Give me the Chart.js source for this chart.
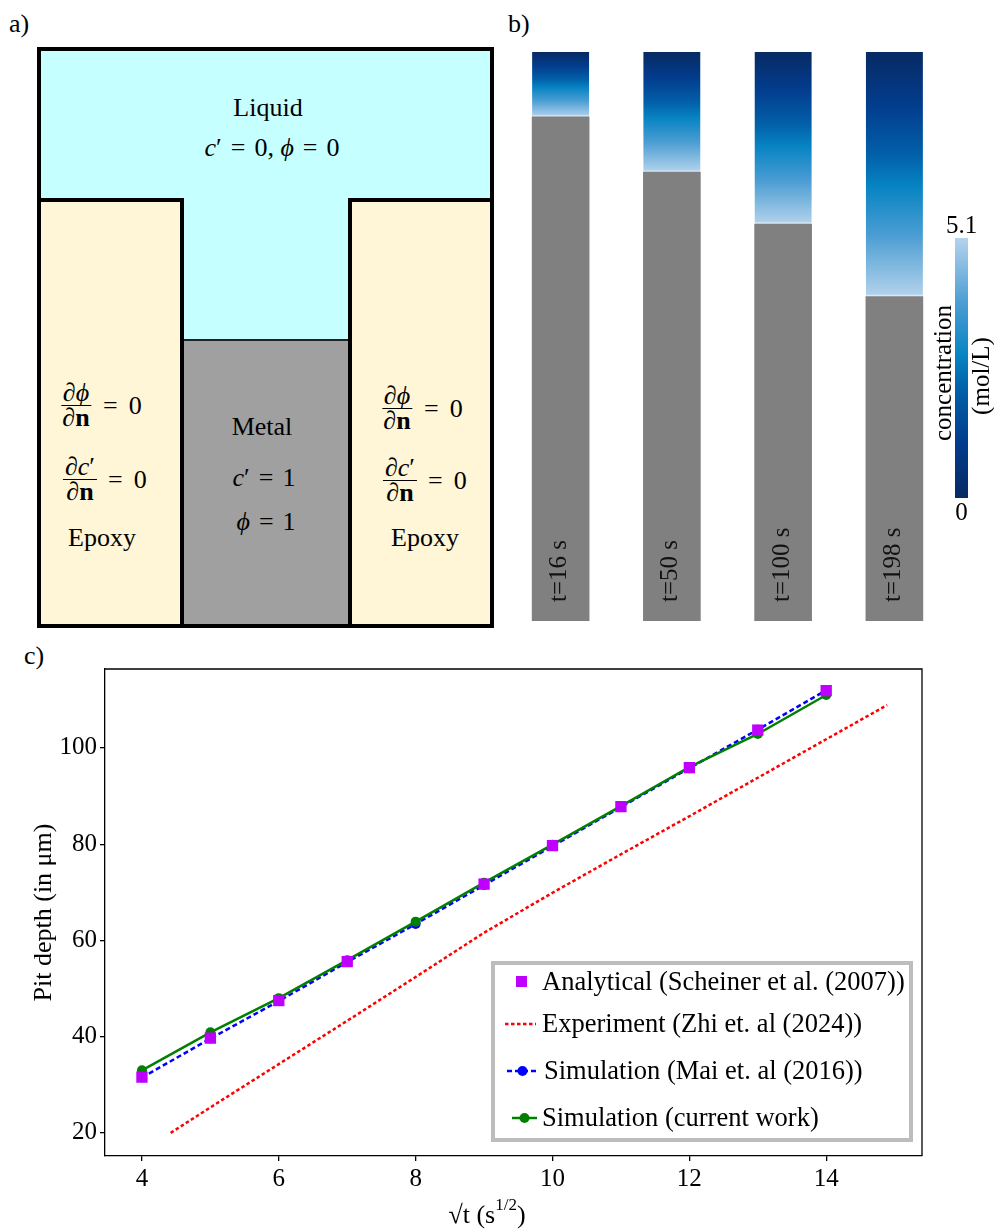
<!DOCTYPE html>
<html>
<head>
<meta charset="utf-8">
<script src="https://cdn.jsdelivr.net/npm/chart.js@4.4.1/dist/chart.umd.min.js"></script>
<style>
	body { margin: 0; background: #fff; color: #000; font-family: "Liberation Serif", "Times New Roman", serif; }
	#page { position: relative; width: 994px; height: 1230px; overflow: hidden; }
	.lbl { position: absolute; font-size: 26px; line-height: 26px; }
	.box { position: absolute; box-sizing: border-box; }
	.ctr { position: absolute; transform: translate(-50%, -50%); white-space: nowrap; font-size: 26px; line-height: 30px; }
	.frac { position: absolute; transform: translateX(-50%); display: flex; flex-direction: column; align-items: center; font-size: 26px; line-height: 24px; }
	.frac .num { border-bottom: 1.5px solid #000; padding: 0 2px; }
	.frac .den { padding: 0 2px; }
	.eq { position: absolute; font-size: 26px; line-height: 25px; white-space: nowrap; }
	.rel { display: inline-block; margin: 0 9px; }
	.eq .rel { margin: 0 11px 0 0; }
	i { font-style: italic; }
	canvas { position: absolute; }
</style>
</head>
<body>
<div id="page">
	<!-- a) schematic -->
	<div class="lbl" style="left:9px;top:11px">a)</div>
	<div class="box" style="left:37px;top:47px;width:457px;height:581px;background:#c6ffff;border:4.5px solid #000"></div>
	<div class="box" style="left:37px;top:198px;width:147px;height:430px;background:#fff5d7;border:4.5px solid #000"></div>
	<div class="box" style="left:348px;top:198px;width:146px;height:430px;background:#fff5d7;border:4.5px solid #000"></div>
	<div class="box" style="left:184px;top:339px;width:164px;height:289px;background:#a0a0a0;border-top:2.5px solid #222;border-bottom:4.5px solid #000"></div>

	<div class="ctr" style="left:268px;top:108px">Liquid</div>
	<div class="ctr" style="left:272px;top:148px"><i>c</i>′<span class="rel">=</span>0, <i>ϕ</i><span class="rel">=</span>0</div>

	<div class="ctr" style="left:262px;top:427px">Metal</div>
	<div class="ctr" style="left:264px;top:478px"><i>c</i>′<span class="rel">=</span>1</div>
	<div class="ctr" style="left:266px;top:522px"><i>ϕ</i><span class="rel">=</span>1</div>

	<div class="frac" style="left:76px;top:381px"><span class="num">∂<i>ϕ</i></span><span class="den">∂<b>n</b></span></div>
	<div class="eq" style="left:103px;top:393px"><span class="rel">=</span>0</div>
	<div class="frac" style="left:80px;top:455px"><span class="num">∂<i>c</i>′</span><span class="den">∂<b>n</b></span></div>
	<div class="eq" style="left:108px;top:467px"><span class="rel">=</span>0</div>
	<div class="ctr" style="left:102px;top:538px">Epoxy</div>

	<div class="frac" style="left:397px;top:384px"><span class="num">∂<i>ϕ</i></span><span class="den">∂<b>n</b></span></div>
	<div class="eq" style="left:424px;top:396px"><span class="rel">=</span>0</div>
	<div class="frac" style="left:400px;top:456px"><span class="num">∂<i>c</i>′</span><span class="den">∂<b>n</b></span></div>
	<div class="eq" style="left:428px;top:468px"><span class="rel">=</span>0</div>
	<div class="ctr" style="left:425px;top:538px">Epoxy</div>

	<!-- b) concentration columns -->
	<div class="lbl" style="left:508px;top:11px">b)</div>
	<canvas id="pits" width="494" height="640" style="left:500px;top:0"></canvas>

	<!-- c) pit depth -->
	<div class="lbl" style="left:24px;top:643px">c)</div>
	<canvas id="depth" width="994" height="590" style="left:0;top:640px"></canvas>
</div>

<script>
// ---- b) pit growth snapshots
const timeLabels = ['t=16 s', 't=50 s', 't=100 s', 't=198 s'];
const domainHeight = 263;               // µm, whole column
const pitDepthB = [30, 55.5, 79.5, 113]; // µm, liquid part of each column
const concRange = [0, 5.1];             // mol/L

// ---- c) pit depth vs sqrt(t)
const sqrtT = [4, 5, 6, 7, 8, 9, 10, 11, 12, 13, 14];
const analytical = [31.6, 39.7, 47.5, 55.6, null, 71.7, 79.7, 87.8, 95.9, 103.7, 111.9];
const maiSim = [31.5, 39.6, 47.4, 55.5, 63.4, 71.5, 79.6, 87.7, 95.8, 103.8, 112.0];
const currentSim = [33.0, 40.9, 48.0, 55.9, 63.9, 72.0, 79.9, 87.9, 96.0, 102.9, 111.0];
const expSqrtT = [4.42, 5, 6, 7, 8, 9, 10, 11, 12, 13, 14, 14.89];
const expDepth = [20, 25.3, 34.3, 43.3, 52.4, 61.6, 69.9, 77.9, 85.8, 93.8, 101.8, 108.9];
const xTicks = [4, 6, 8, 10, 12, 14];
const yTicks = [20, 40, 60, 80, 100];

const FONT = '"Liberation Serif", "Times New Roman", serif';
Chart.defaults.font.family = FONT;
Chart.defaults.color = '#000';
Chart.defaults.animation = false;

// dark (0) -> light (5.1)
const cmapStops = [
	[0.00, '#072a63'],
	[0.22, '#023d8e'],
	[0.42, '#0260a9'],
	[0.55, '#0784c3'],
	[0.75, '#4b9dd3'],
	[1.00, '#b4d3ec']
];

function fillStops(grad) {
	cmapStops.forEach(([p, c]) => grad.addColorStop(p, c));
	return grad;
}

const pitsPlugin = {
	id: 'pitsDecor',
	afterDatasetsDraw(chart) {
		const {ctx, scales} = chart;
		ctx.save();
		ctx.fillStyle = '#111';
		ctx.font = '25px ' + FONT;
		ctx.textAlign = 'left';
		ctx.textBaseline = 'middle';
		timeLabels.forEach((t, i) => {
			ctx.save();
			ctx.translate(scales.x.getPixelForValue(i) - 1, 602);
			ctx.rotate(-Math.PI / 2);
			ctx.fillText(t, 0, 0);
			ctx.restore();
		});

		// colorbar
		const cx0 = 455, cx1 = 468, cy0 = 238, cy1 = 498;
		ctx.fillStyle = fillStops(ctx.createLinearGradient(0, cy1, 0, cy0));
		ctx.fillRect(cx0, cy0, cx1 - cx0, cy1 - cy0);

		ctx.fillStyle = '#000';
		ctx.textAlign = 'center';
		ctx.fillText(String(concRange[1]), (cx0 + cx1) / 2, 226);
		ctx.fillText(String(concRange[0]), (cx0 + cx1) / 2, 513);

		ctx.save();
		ctx.translate(444, 373);
		ctx.rotate(-Math.PI / 2);
		ctx.fillText('concentration', 0, 0);
		ctx.restore();
		ctx.save();
		ctx.translate(482, 376);
		ctx.rotate(-Math.PI / 2);
		ctx.fillText('(mol/L)', 0, 0);
		ctx.restore();
		ctx.restore();
	}
};

new Chart(document.getElementById('pits'), {
	type: 'bar',
	data: {
		labels: timeLabels,
		datasets: [
			{
				label: 'metal',
				data: pitDepthB.map(d => domainHeight - d),
				backgroundColor: '#808080',
				borderWidth: 0
			},
			{
				label: 'liquid',
				data: pitDepthB,
				backgroundColor(c) {
					const chart = c.chart;
					if (!chart.chartArea || c.dataIndex === undefined) return cmapStops[0][1];
					const y = chart.scales.y;
					const top = y.getPixelForValue(domainHeight);
					const bot = y.getPixelForValue(domainHeight - pitDepthB[c.dataIndex]);
					return fillStops(chart.ctx.createLinearGradient(0, top, 0, bot));
				},
				borderColor: '#d6e8f6',
				borderWidth: {top: 0, left: 0, right: 0, bottom: 2},
				borderSkipped: false
			}
		]
	},
	options: {
		responsive: false,
		layout: {padding: {left: 5, right: 44, top: 52, bottom: 19}},
		datasets: {bar: {barThickness: 57}},
		scales: {
			x: {stacked: true, display: false},
			y: {stacked: true, display: false, min: 0, max: domainHeight}
		},
		plugins: {legend: {display: false}, tooltip: {enabled: false}}
	},
	plugins: [pitsPlugin]
});

// ---- c)
const pairs = (xs, ys) => xs.map((x, i) => ({x, y: ys[i]})).filter(p => p.y !== null);

const series = {
	analytical: {
		label: 'Analytical (Scheiner et al. (2007))',
		data: pairs(sqrtT, analytical),
		showLine: false,
		pointStyle: 'rect',
		pointRadius: 8,
		pointBorderWidth: 0,
		backgroundColor: '#bf00ff',
		borderColor: '#bf00ff',
		order: 0
	},
	experiment: {
		label: 'Experiment (Zhi et. al (2024))',
		data: pairs(expSqrtT, expDepth),
		borderColor: '#ff0000',
		borderWidth: 2.5,
		borderDash: [3.5, 2.5],
		pointRadius: 0,
		order: 3
	},
	mai: {
		label: 'Simulation (Mai et. al (2016))',
		data: pairs(sqrtT, maiSim),
		borderColor: '#0000ff',
		backgroundColor: '#0000ff',
		borderWidth: 2.5,
		borderDash: [5, 3],
		pointRadius: 5,
		pointBorderWidth: 0,
		order: 2
	},
	current: {
		label: 'Simulation (current work)',
		data: pairs(sqrtT, currentSim),
		borderColor: '#008000',
		backgroundColor: '#008000',
		borderWidth: 2.5,
		pointRadius: 5,
		pointBorderWidth: 0,
		order: 1
	}
};
const legendOrder = ['analytical', 'experiment', 'mai', 'current'];

const depthPlugin = {
	id: 'depthDecor',
	afterDraw(chart) {
		const {ctx, chartArea: a} = chart;
		ctx.save();
		// top / right frame
		ctx.strokeStyle = '#000';
		ctx.lineWidth = 1.3;
		ctx.beginPath();
		ctx.moveTo(a.left, a.top);
		ctx.lineTo(a.right, a.top);
		ctx.lineTo(a.right, a.bottom);
		ctx.stroke();

		// legend
		ctx.fillStyle = '#fff';
		ctx.fillRect(493, 323, 418, 177);
		ctx.strokeStyle = '#bdbdbd';
		ctx.lineWidth = 4;
		ctx.strokeRect(493, 323, 418, 177);

		const rows = [342, 384, 431, 478];
		ctx.font = '26.5px ' + FONT;
		ctx.textBaseline = 'middle';
		ctx.textAlign = 'left';
		legendOrder.forEach((key, i) => {
			const s = series[key], y = rows[i];
			ctx.setLineDash([]);
			if (key === 'analytical') {
				ctx.fillStyle = s.backgroundColor;
				ctx.fillRect(516, y - 6, 11, 11);
			} else {
				ctx.strokeStyle = s.borderColor;
				ctx.lineWidth = s.borderWidth;
				ctx.setLineDash(s.borderDash || []);
				const x0 = key === 'experiment' ? 505 : key === 'mai' ? 507 : 512;
				const x1 = key === 'experiment' ? 536 : key === 'mai' ? 538 : 537;
				ctx.beginPath();
				ctx.moveTo(x0, y);
				ctx.lineTo(x1, y);
				ctx.stroke();
				ctx.setLineDash([]);
				if (s.pointRadius) {
					ctx.fillStyle = s.borderColor;
					ctx.beginPath();
					ctx.arc((x0 + x1) / 2, y, s.pointRadius, 0, Math.PI * 2);
					ctx.fill();
				}
			}
			ctx.fillStyle = '#000';
			ctx.fillText(s.label, key === 'mai' ? 544 : 542, y + 1);
		});

		// x axis title with superscript
		const main = '√t (s', sup = '1/2', tail = ')';
		ctx.font = '26px ' + FONT;
		const w1 = ctx.measureText(main).width, w3 = ctx.measureText(tail).width;
		ctx.font = '17px ' + FONT;
		const w2 = ctx.measureText(sup).width;
		let x = 487 - (w1 + w2 + w3) / 2;
		const ty = 576;
		ctx.font = '26px ' + FONT;
		ctx.fillText(main, x, ty);
		x += w1;
		ctx.font = '17px ' + FONT;
		ctx.fillText(sup, x, ty - 10);
		x += w2;
		ctx.font = '26px ' + FONT;
		ctx.fillText(tail, x, ty);
		ctx.restore();
	}
};

const axisLine = {display: true, color: '#000', width: 1.3};
const tickMarks = {display: true, drawOnChartArea: false, drawTicks: true, tickLength: 5, color: '#000', lineWidth: 1.3};

new Chart(document.getElementById('depth'), {
	type: 'line',
	data: {
		datasets: legendOrder.map(k => series[k])
	},
	options: {
		responsive: false,
		layout: {padding: {left: 0, right: 72, top: 29, bottom: 0}},
		elements: {line: {tension: 0}},
		scales: {
			x: {
				type: 'linear',
				min: 3.46,
				max: 15.4,
				border: axisLine,
				grid: tickMarks,
				afterBuildTicks: s => { s.ticks = xTicks.map(v => ({value: v})); },
				afterFit: s => { s.height = 74; },
				ticks: {font: {size: 25}, padding: 3, maxRotation: 0, callback: v => String(v)}
			},
			y: {
				type: 'linear',
				min: 15.2,
				max: 116.4,
				border: axisLine,
				grid: tickMarks,
				afterBuildTicks: s => { s.ticks = yTicks.map(v => ({value: v})); },
				afterFit: s => { s.width = 105; },
				ticks: {font: {size: 25}, padding: 3, callback: v => String(v)},
				title: {display: true, text: 'Pit depth (in μm)', font: {size: 26}, padding: {top: 29, bottom: 0}}
			}
		},
		plugins: {legend: {display: false}, tooltip: {enabled: false}}
	},
	plugins: [depthPlugin]
});
</script>
</body>
</html>
